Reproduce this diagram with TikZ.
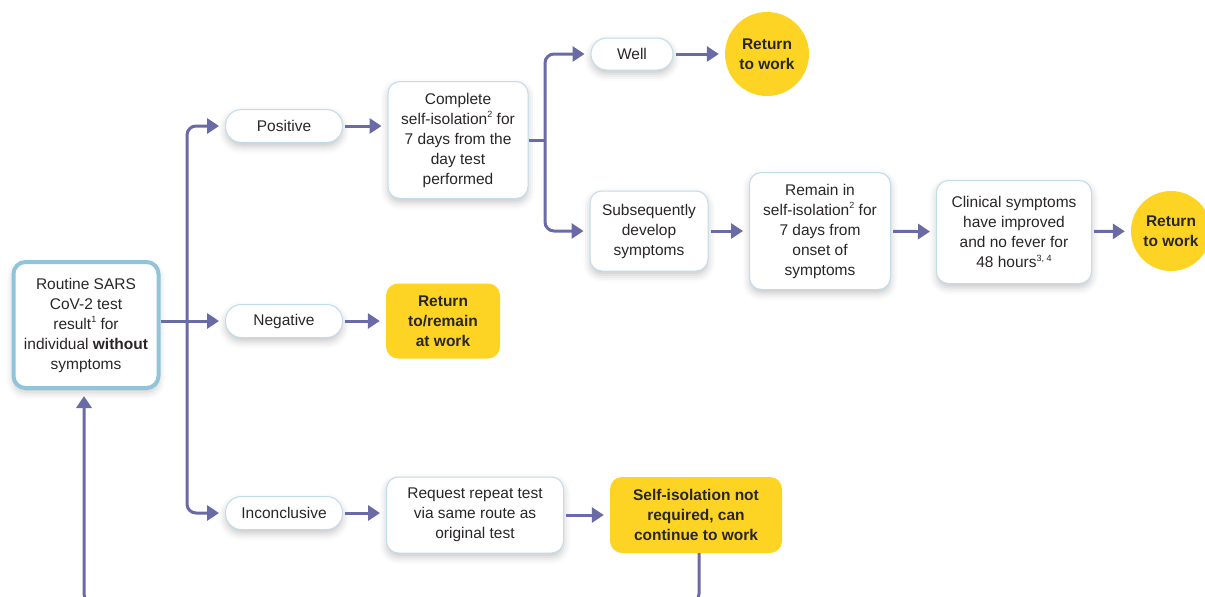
\documentclass[tikz,border=0pt]{standalone}
\usepackage{fontspec}
\setmainfont{Liberation Sans}
\usetikzlibrary{arrows.meta,shadows.blur}
\definecolor{arrc}{HTML}{6A6AA6}
\definecolor{mainb}{HTML}{8FC4DB}
\definecolor{boxb}{HTML}{C2DCEA}
\definecolor{yel}{HTML}{FED424}
\definecolor{txt}{HTML}{2A2626}
\newcommand\mysup[1]{\raisebox{0.75ex}{\fontsize{9}{9}\selectfont #1}}
\tikzset{
  base/.style={align=center, text=txt, font=\fontsize{15.5}{20}\selectfont, inner sep=2pt},
  sh/.style={blur shadow={shadow xshift=0pt, shadow yshift=-4pt, shadow blur radius=7pt, shadow opacity=22}},
  wbox/.style={base, sh, draw=boxb, line width=1pt, fill=white, rounded corners=12pt},
  pill/.style={base, sh, draw=boxb, line width=1pt, fill=white, rounded corners=16pt, minimum width=117pt, minimum height=33pt},
  ybox/.style={base, fill=yel, rounded corners=12pt, font=\fontsize{15.5}{20}\selectfont\bfseries},
  ycirc/.style={base, circle, fill=yel, font=\fontsize{15.5}{20}\selectfont\bfseries, inner sep=0pt},
  arr/.style={draw=arrc, line width=3pt, -{Triangle[length=12pt,width=15pt]}, shorten >=6pt},
  lin/.style={draw=arrc, line width=3pt},
}
\begin{document}
\begin{tikzpicture}[x=1pt,y=-1pt]
\useasboundingbox (0,0) rectangle (1205,597);
% nodes
\node[wbox, draw=mainb, line width=4pt, minimum width=145pt, minimum height=126pt] (main) at (86,325)
  {Routine SARS\\CoV-2 test\\result\mysup{1} for\\individual \textbf{without}\\symptoms};
\node[pill] (pos) at (284,126) {Positive};
\node[pill] (neg) at (284,321) {Negative};
\node[pill] (inc) at (284,513) {Inconclusive};
\node[wbox, minimum width=140pt, minimum height=117pt] (comp) at (458,140)
  {Complete\\self-isolation\mysup{2} for\\7 days from the\\day test\\performed};
\node[ybox, minimum width=114pt, minimum height=75pt] (ret2) at (443,321) {Return\\to/remain\\at work};
\node[wbox, minimum width=177pt, minimum height=76pt] (req) at (475,515)
  {Request repeat test\\via same route as\\original test};
\node[ybox, minimum width=172pt, minimum height=76pt] (self) at (696,515)
  {Self-isolation not\\required, can\\continue to work};
\node[pill, minimum width=82pt, minimum height=32pt] (well) at (632,54) {Well};
\node[ycirc, minimum size=84pt] (ret1) at (767,54) {Return\\to work};
\node[wbox, minimum width=118pt, minimum height=80pt] (sub) at (649,231)
  {Subsequently\\develop\\symptoms};
\node[wbox, minimum width=141pt, minimum height=117pt] (rem) at (820,231)
  {Remain in\\self-isolation\mysup{2} for\\7 days from\\onset of\\symptoms};
\node[wbox, minimum width=155pt, minimum height=103pt] (clin) at (1014,232)
  {Clinical symptoms\\have improved\\and no fever for\\48 hours\mysup{3, 4}};
\node[ycirc, minimum size=80pt] (ret3) at (1171,231) {Return\\to work};
% connectors
\coordinate (tr) at (187,321);
\coordinate (br) at (545,140);
\coordinate (lp) at (699,603);
\draw[arr] (main.east |- neg) -- (neg);
\draw[arr, rounded corners=9pt] (tr) |- (pos);
\draw[arr, rounded corners=9pt] (tr) |- (inc);
\draw[arr, shorten <=2pt] (pos.east) -- (pos.east -| comp.west);
\draw[arr, shorten <=2pt] (neg) -- (ret2);
\draw[arr, shorten <=2pt] (inc.east) -- (inc.east -| req.west);
\draw[arr, shorten <=2pt] (req) -- (self);
\draw[lin] (comp.east |- br) -- (br);
\draw[arr, rounded corners=9pt] (br) |- (well);
\draw[arr, rounded corners=9pt] (br) |- (sub);
\draw[arr, shorten <=2pt] (well) -- (ret1);
\draw[arr, shorten <=2pt] (sub) -- (rem);
\draw[arr, shorten <=2pt] (rem) -- (clin);
\draw[arr, shorten <=2pt] (clin) -- (ret3);
\draw[arr, rounded corners=9pt] (self.south -| lp) -- (lp) -| ([xshift=-2pt]main.south);
\end{tikzpicture}
\end{document}
